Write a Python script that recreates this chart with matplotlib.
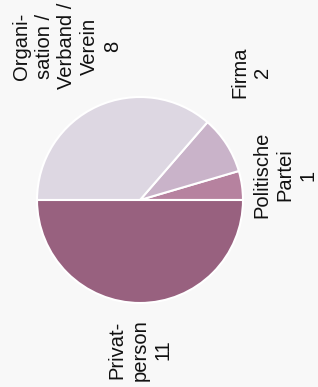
import matplotlib.pyplot as plt

# Daten (Reihenfolge gegen den Uhrzeigersinn ab 0 Grad)
kategorien = ["Politische\nPartei", "Firma", "Organi-\nsation /\nVerband /\nVerein", "Privat-\nperson"]
anzahl = [1, 2, 8, 11]
farben = ["#b6829f", "#c9b3c9", "#ddd7e2", "#98617f"]

plt.rcParams['font.family'] = ['Liberation Sans', 'DejaVu Sans']

W, H = 318, 387
fig = plt.figure(figsize=(W / 100, H / 100), dpi=100, facecolor="#f8f8f8")

# Kreis: Mittelpunkt (140, 200) px, Radius 103 px
cx, cy, r = 140, 200, 103
ax = fig.add_axes([(cx - r) / W, (H - cy - r) / H, 2 * r / W, 2 * r / H])
ax.pie(anzahl, colors=farben, startangle=0, counterclock=True,
       wedgeprops=dict(edgecolor="white", linewidth=1.5))
ax.set_xlim(-1, 1)
ax.set_ylim(-1, 1)
ax.set_aspect("auto")
ax.axis("off")

# Beschriftungen (um 90 Grad gedreht), Position in Pixeln
label_pos = [(285, 175), (251, 72), (67, 46), (140, 350)]
for name, wert, (x, y) in zip(kategorien, anzahl, label_pos):
    fig.text(x / W, 1 - y / H, f"{name}\n{wert}", rotation=90,
             ha="center", va="center", multialignment="center",
             fontsize=14.5, linespacing=1.25, color="#111111")

fig.savefig("out.png", dpi=100, facecolor=fig.get_facecolor())
